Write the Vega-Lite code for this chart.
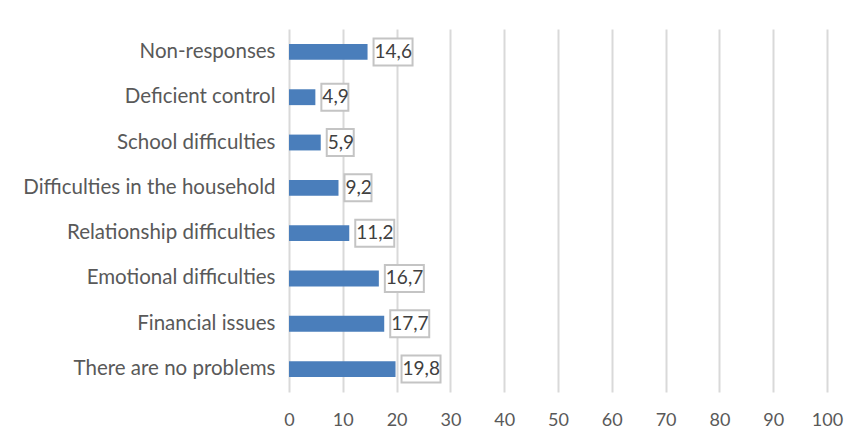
{
  "$schema": "https://vega.github.io/schema/vega-lite/v6.json",
  "width": 538,
  "height": 363,
  "autosize": {"type": "none"},
  "padding": {"left": 289, "top": 29, "right": 31, "bottom": 51},
  "background": "white",
  "config": {
    "view": {"stroke": null},
    "font": "Lato",
    "locale": {"number": {"decimal": ",", "thousands": ".", "grouping": [3], "currency": ["", " €"]}}
  },
  "data": {
    "values": [
      {"category": "Non-responses", "value": 14.6},
      {"category": "Deficient control", "value": 4.9},
      {"category": "School difficulties", "value": 5.9},
      {"category": "Difficulties in the household", "value": 9.2},
      {"category": "Relationship difficulties", "value": 11.2},
      {"category": "Emotional difficulties", "value": 16.7},
      {"category": "Financial issues", "value": 17.7},
      {"category": "There are no problems", "value": 19.8}
    ]
  },
  "encoding": {
    "y": {
      "field": "category",
      "type": "nominal",
      "sort": null,
      "scale": {"paddingInner": 0.65, "paddingOuter": 0.33},
      "axis": {
        "title": null,
        "domain": false,
        "ticks": false,
        "labelFontSize": 20.5,
        "labelColor": "#595959",
        "labelPadding": 14,
        "labelLimit": 300
      }
    },
    "x": {
      "field": "value",
      "type": "quantitative",
      "scale": {"domain": [0, 100], "nice": false},
      "axis": {
        "title": null,
        "values": [0, 10, 20, 30, 40, 50, 60, 70, 80, 90, 100],
        "domain": false,
        "ticks": false,
        "grid": true,
        "gridColor": "#d9d9d9",
        "gridWidth": 2,
        "labelFontSize": 18,
        "labelColor": "#595959",
        "labelPadding": 19,
        "labelFlush": false,
        "format": "d"
      }
    }
  },
  "layer": [
    {"mark": {"type": "bar", "color": "#4a7ebb"}},
    {
      "transform": [{"filter": "datum.value >= 10"}],
      "mark": {"type": "point", "shape": "M6,-13.5H45V13.5H6Z", "size": 4, "filled": false, "fill": "white", "fillOpacity": 1, "stroke": "#c4c4c4", "strokeWidth": 2, "opacity": 1}
    },
    {
      "transform": [{"filter": "datum.value < 10"}],
      "mark": {"type": "point", "shape": "M6,-13.5H33V13.5H6Z", "size": 4, "filled": false, "fill": "white", "fillOpacity": 1, "stroke": "#c4c4c4", "strokeWidth": 2, "opacity": 1}
    },
    {
      "mark": {"type": "text", "align": "left", "dx": 7, "fontSize": 19, "color": "#404040"},
      "encoding": {"text": {"field": "value", "type": "quantitative", "format": ".1f"}}
    }
  ]
}
